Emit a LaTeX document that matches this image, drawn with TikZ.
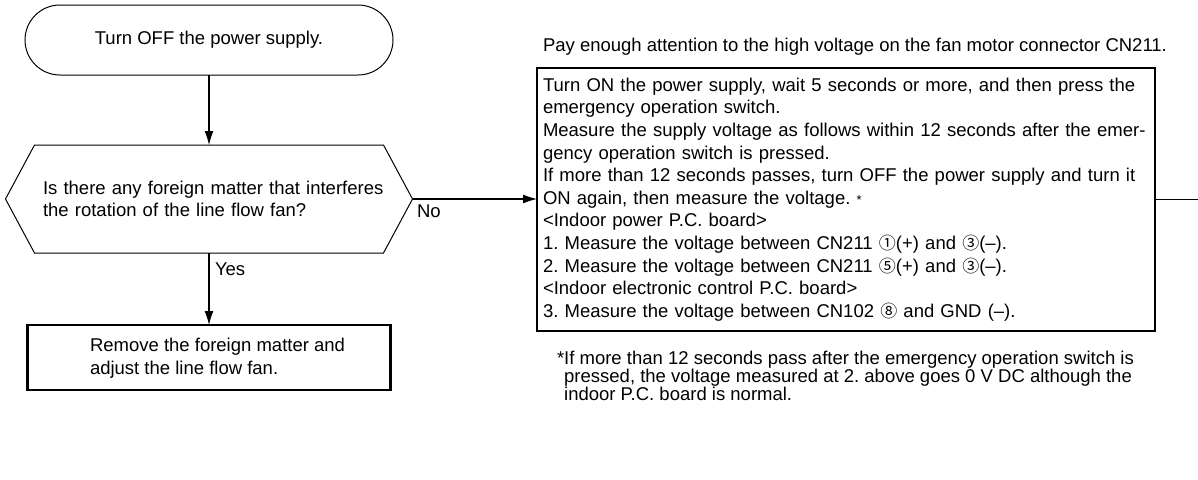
\documentclass[tikz,border=0pt]{standalone}
\usepackage{fontspec}
\setmainfont{Liberation Sans}
\newfontfamily\symfont{Noto Sans CJK JP}
\usetikzlibrary{arrows.meta}
\frenchspacing
\newcommand{\cnum}[1]{{\symfont\fontsize{17}{17}\selectfont #1}}
\tikzset{
  fbase/.style={font=\fontsize{18.5}{22.6}\selectfont\frenchspacing, inner sep=0pt, outer sep=0pt},
  term/.style={fbase, draw, line width=1pt, rounded corners=35pt, minimum width=368pt, minimum height=70pt},
  hexa/.style={fbase, minimum width=407pt, minimum height=108pt, text width=332pt, align=left},
  act/.style={fbase, draw, line width=2.5pt, minimum width=363pt, minimum height=65pt},
  bigbox/.style={fbase, draw, line width=1.5pt, minimum width=618pt, minimum height=263pt, text width=606pt, align=left},
  txt/.style={fbase, align=left},
  conn/.style={line width=1.2pt, -{Latex[length=14pt,width=9pt]}},
  wire/.style={line width=1.2pt},
}
\begin{document}
\begin{tikzpicture}[x=1pt,y=-1pt]
\useasboundingbox (0,0) rectangle (1198,479);

\node[term] (start) at (209,40) {Turn OFF the power supply.};

\node[hexa] (dec) at (209,199) {\hbox to 332pt{Is there any foreign matter that interferes\hss}\\the rotation of the line flow fan?};
\draw[line width=1pt] (dec.west) -- ([xshift=29pt]dec.north west) -- ([xshift=-29pt]dec.north east)
  -- (dec.east) -- ([xshift=-29pt]dec.south east) -- ([xshift=29pt]dec.south west) -- cycle;

\node[act] (rm) at (209,357.5) {};
\node[txt, anchor=west] (rmtext) at (90,358) {Remove the foreign matter and\\adjust the line flow fan.};

\node[txt, anchor=west] (hdr) at (543,47) {Pay enough attention to the high voltage on the fan motor connector CN211.};

\node[bigbox] (box) at (846,199.5) {Turn ON the power supply, wait 5 seconds or more, and then press the\\
emergency operation switch.\\
Measure the supply voltage as follows within 12 seconds after the emer-\\
gency operation switch is pressed.\\
If more than 12 seconds passes, turn OFF the power supply and turn it\\
ON again, then measure the voltage. {\fontsize{13}{13}\selectfont *}\\
<Indoor power P.C. board>\\
1. Measure the voltage between CN211 \cnum{①}(+) and \cnum{③}(–).\\
2. Measure the voltage between CN211 \cnum{⑤}(+) and \cnum{③}(–).\\
<Indoor electronic control P.C. board>\\
3. Measure the voltage between CN102 \cnum{⑧} and GND (–).};

\node[txt, anchor=west, font=\fontsize{18.5}{18.2}\selectfont\frenchspacing] (foot) at (557,376) {*If more than 12 seconds pass after the emergency operation switch is\\
\phantom{*}pressed, the voltage measured at 2. above goes 0 V DC although the\\
\phantom{*}indoor P.C. board is normal.};

\coordinate (rend) at (1198,199.5);

\draw[conn] (start) -- (dec);
\draw[conn] (dec) -- (rm);
\draw[conn] (dec.east) -- (dec.east -| box.west);
\draw[wire] (box.east) -- (rend);

\node[txt, anchor=west] (nolab) at (417,211) {No};
\node[txt, anchor=west] (yeslab) at (215,269) {Yes};
\end{tikzpicture}
\end{document}
